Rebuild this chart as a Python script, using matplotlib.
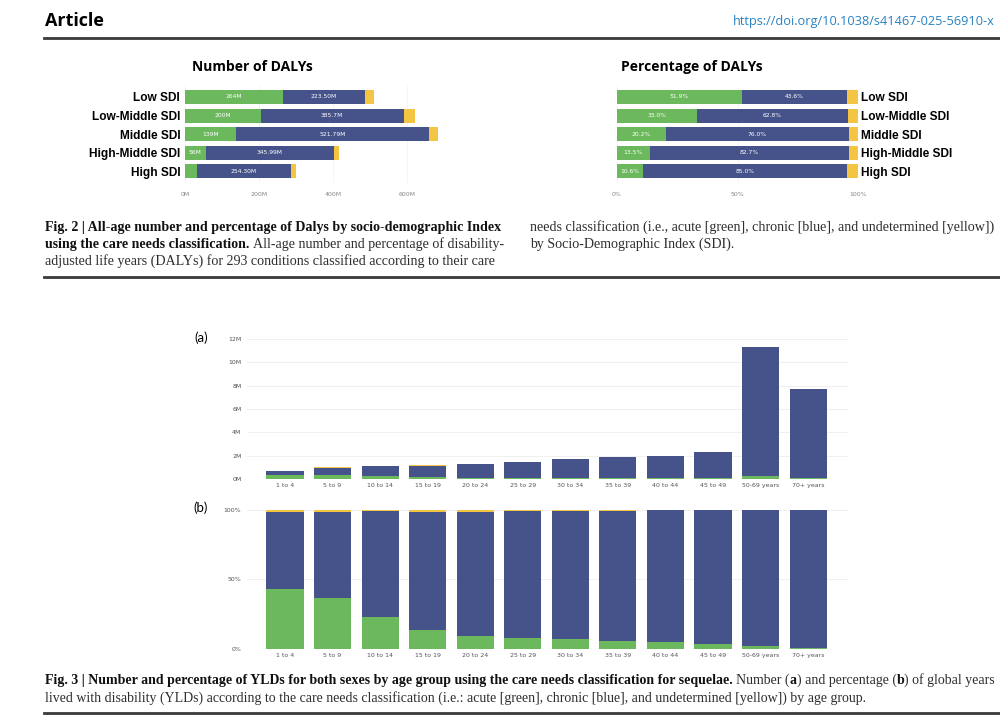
import matplotlib
matplotlib.use("Agg")
import matplotlib.pyplot as plt
from matplotlib.lines import Line2D
import numpy as np

W, H = 1000, 715
GREEN = "#6cb85c"
BLUE = "#45538a"
YELLOW = "#f4c542"

# ---------------- Fig. 2 data ----------------
sdi_levels = ["Low SDI", "Low-Middle SDI", "Middle SDI", "High-Middle SDI", "High SDI"]
daly_acute = [264, 205, 139, 56, 32]
daly_chronic = [223.5, 385.7, 521.79, 345.99, 254.3]
daly_undet = [24, 30, 24, 14, 14]
daly_acute_labels = ["264M", "200M", "139M", "56M", ""]
daly_chronic_labels = ["223.50M", "385.7M", "521.79M", "345.99M", "254.30M"]
daly_ticks = [0, 200, 400, 600]
daly_tick_labels = ["0M", "200M", "400M", "600M"]

pct_acute = [51.9, 33.0, 20.2, 13.5, 10.6]
pct_chronic = [43.6, 62.8, 76.0, 82.7, 85.0]
pct_undet = [4.5, 4.2, 3.8, 3.8, 4.4]
pct_acute_labels = ["51.9%", "33.0%", "20.2%", "13.5%", "10.6%"]
pct_chronic_labels = ["43.6%", "62.8%", "76.0%", "82.7%", "85.0%"]
pct_ticks = [0, 50, 100]
pct_tick_labels = ["0%", "50%", "100%"]

# ---------------- Fig. 3 data ----------------
age_groups = ["1 to 4", "5 to 9", "10 to 14", "15 to 19", "20 to 24", "25 to 29",
              "30 to 34", "35 to 39", "40 to 44", "45 to 49", "50-69 years", "70+ years"]
yld_acute = [0.30, 0.37, 0.26, 0.16, 0.12, 0.12, 0.12, 0.11, 0.10, 0.09, 0.27, 0.07]
yld_chronic = [0.40, 0.615, 0.87, 0.99, 1.15, 1.355, 1.575, 1.745, 1.86, 2.19, 11.0, 7.66]
yld_undet = [0.01, 0.015, 0.01, 0.02, 0.02, 0.015, 0.015, 0.015, 0.01, 0.01, 0.02, 0.01]
yld_ticks = [0, 2, 4, 6, 8, 10, 12]
yld_tick_labels = ["0M", "2M", "4M", "6M", "8M", "10M", "12M"]

yldp_acute = [42.9, 36.8, 23.0, 13.4, 9.6, 8.1, 6.9, 5.9, 5.0, 3.8, 2.4, 0.9]
yldp_chronic = [55.6, 61.7, 76.0, 84.6, 88.9, 90.9, 92.1, 93.3, 94.5, 95.9, 97.4, 99.0]
yldp_undet = [1.5, 1.5, 1.0, 2.0, 1.5, 1.0, 1.0, 0.8, 0.5, 0.3, 0.2, 0.1]

fig = plt.figure(figsize=(10, 7.15), dpi=100)
renderer = fig.canvas.get_renderer()


def fx(x):
    return x / W


def fy(y):
    return 1 - y / H


def px_axes(l, t, r, b):
    ax = fig.add_axes([l / W, 1 - b / H, (r - l) / W, (b - t) / H])
    for s in ax.spines.values():
        s.set_visible(False)
    return ax


def hline(x0, x1, y, lw=1.8, color="#3a3a3a"):
    fig.add_artist(Line2D([fx(x0), fx(x1)], [fy(y), fy(y)], lw=lw, color=color,
                          transform=fig.transFigure))


# ---------------- Header ----------------
fig.text(fx(45), fy(21), "Article", fontsize=13, fontweight="bold", family="Open Sans",
         ha="left", va="center")
fig.text(fx(995), fy(21), "https://doi.org/10.1038/s41467-025-56910-x", fontsize=9.2,
         color="#2a82c2", family="Open Sans", ha="right", va="center")
hline(44, 1000, 37.5, lw=2.0)

# ---------------- Fig. 2 left: Number of DALYs ----------------
rows = np.arange(len(sdi_levels))
ax1 = px_axes(185, 85.8, 444, 182.6)
acute = np.array(daly_acute)
chronic = np.array(daly_chronic)
ax1.barh(rows, acute, height=0.75, color=GREEN, zorder=2)
ax1.barh(rows, chronic, left=acute, height=0.75, color=BLUE, zorder=2)
ax1.barh(rows, daly_undet, left=acute + chronic, height=0.75, color=YELLOW, zorder=2)
for i in rows:
    if daly_acute_labels[i]:
        ax1.text(acute[i] / 2, i, daly_acute_labels[i], color="white", fontsize=4.3,
                 ha="center", va="center", zorder=3)
    ax1.text(acute[i] + chronic[i] / 2, i, daly_chronic_labels[i], color="white",
             fontsize=4.3, ha="center", va="center", zorder=3)
ax1.set_xlim(0, 700)
ax1.set_ylim(4.6, -0.6)
ax1.set_xticks(daly_ticks)
ax1.set_xticklabels(daly_tick_labels)
ax1.set_yticks(rows)
ax1.set_yticklabels(sdi_levels, fontweight="bold", fontsize=8.6, family="Liberation Sans")
ax1.tick_params(axis="x", length=0, labelsize=4.5, labelcolor="#888888", pad=7)
ax1.tick_params(axis="y", length=0, pad=3.5)
ax1.grid(axis="x", color="#f3f3f3", lw=0.6, zorder=0)
ax1.set_axisbelow(True)
fig.text(fx(252), fy(67), "Number of DALYs", ha="center", va="center", fontsize=10,
         fontweight="bold", family="Open Sans")

# ---------------- Fig. 2 right: Percentage of DALYs ----------------
ax2 = px_axes(617, 85.8, 858, 182.6)
pa = np.array(pct_acute)
pc = np.array(pct_chronic)
ax2.barh(rows, pa, height=0.75, color=GREEN, zorder=2)
ax2.barh(rows, pc, left=pa, height=0.75, color=BLUE, zorder=2)
ax2.barh(rows, pct_undet, left=pa + pc, height=0.75, color=YELLOW, zorder=2)
for i in rows:
    ax2.text(pa[i] / 2, i, pct_acute_labels[i], color="white", fontsize=4.3,
             ha="center", va="center", zorder=3)
    ax2.text(pa[i] + pc[i] / 2, i, pct_chronic_labels[i], color="white", fontsize=4.3,
             ha="center", va="center", zorder=3)
ax2.set_xlim(0, 100)
ax2.set_ylim(4.6, -0.6)
ax2.set_xticks(pct_ticks)
ax2.set_xticklabels(pct_tick_labels)
ax2.yaxis.tick_right()
ax2.set_yticks(rows)
ax2.set_yticklabels(sdi_levels, fontweight="bold", fontsize=8.6, family="Liberation Sans")
ax2.tick_params(axis="x", length=0, labelsize=4.5, labelcolor="#888888", pad=7)
ax2.tick_params(axis="y", length=0, pad=2)
ax2.grid(axis="x", color="#f3f3f3", lw=0.6, zorder=0)
ax2.set_axisbelow(True)
fig.text(fx(692), fy(67), "Percentage of DALYs", ha="center", va="center", fontsize=10,
         fontweight="bold", family="Open Sans")

# ---------------- caption helpers ----------------
CAP_FAMILY = "Liberation Serif"


def text_w(txt, size, wt):
    t = fig.text(0, 0, txt, fontsize=size, fontweight=wt, family=CAP_FAMILY)
    w = t.get_window_extent(renderer).width
    t.remove()
    return w


def space_w(size, wt):
    return text_w("n n", size, wt) - text_w("nn", size, wt)


def line_w(segs, size):
    total = 0
    for txt, wt, sp in segs:
        if sp:
            total += space_w(size, wt)
        total += text_w(txt, size, wt)
    return total


def draw_line(segs, x, y, size):
    for txt, wt, sp in segs:
        if sp:
            x += space_w(size, wt)
        fig.text(fx(x), fy(y), txt, fontsize=size, fontweight=wt, family=CAP_FAMILY,
                 ha="left", va="baseline",
                 color="#111111" if wt == "bold" else "#2e2e2e")
        x += text_w(txt, size, wt)


fig2_l1 = [("Fig. 2 | All-age number and percentage of Dalys by socio-demographic Index", "bold", False)]
fig2_l2 = [("using the care needs classification.", "bold", False),
           ("All-age number and percentage of disability-", "normal", True)]
fig2_l3 = [("adjusted life years (DALYs) for 293 conditions classified according to their care", "normal", False)]
fig2_r1 = [("needs classification (i.e., acute [green], chronic [blue], and undetermined [yellow])", "normal", False)]
fig2_r2 = [("by Socio-Demographic Index (SDI).", "normal", False)]

base = 10.0
size2 = base * 460 / line_w(fig2_l1, base)
size2r = base * 465 / line_w(fig2_r1, base)
sz = min(size2, size2r)
draw_line(fig2_l1, 45, 231, sz)
draw_line(fig2_l2, 45, 248, sz)
draw_line(fig2_l3, 45, 265, sz)
draw_line(fig2_r1, 530, 231, sz)
draw_line(fig2_r2, 530, 248, sz)
hline(44, 1000, 277, lw=2.0)

# ---------------- Fig. 3 (a) ----------------
xa = np.arange(len(age_groups))
axA = px_axes(247, 334.3, 848, 479)
ya = np.array(yld_acute)
yc = np.array(yld_chronic)
axA.bar(xa, ya, width=0.78, color=GREEN, zorder=2)
axA.bar(xa, yc, bottom=ya, width=0.78, color=BLUE, zorder=2)
axA.bar(xa, yld_undet, bottom=ya + yc, width=0.78, color=YELLOW, zorder=2)
axA.set_xlim(-0.8, 11.84)
axA.set_ylim(0, 12.4)
axA.set_yticks(yld_ticks)
axA.set_yticklabels(yld_tick_labels)
axA.set_xticks(xa)
axA.set_xticklabels(age_groups)
axA.tick_params(axis="both", length=0, labelsize=4.5, labelcolor="#555555")
axA.tick_params(axis="x", pad=3)
axA.tick_params(axis="y", pad=4)
axA.grid(axis="y", color="#eeeeee", lw=0.6, zorder=0)
axA.set_axisbelow(True)
fig.text(fx(201), fy(338), "(a)", fontsize=9.5, family="Lato", ha="center", va="center")

# ---------------- Fig. 3 (b) ----------------
axB = px_axes(247, 509.7, 848, 649)
pa3 = np.array(yldp_acute)
pc3 = np.array(yldp_chronic)
axB.bar(xa, pa3, width=0.78, color=GREEN, zorder=2)
axB.bar(xa, pc3, bottom=pa3, width=0.78, color=BLUE, zorder=2)
axB.bar(xa, yldp_undet, bottom=pa3 + pc3, width=0.78, color=YELLOW, zorder=2, clip_on=False)
axB.set_xlim(-0.8, 11.84)
axB.set_ylim(0, 100)
axB.set_yticks(pct_ticks)
axB.set_yticklabels(pct_tick_labels)
axB.set_xticks(xa)
axB.set_xticklabels(age_groups)
axB.tick_params(axis="both", length=0, labelsize=4.5, labelcolor="#555555")
axB.tick_params(axis="x", pad=3)
axB.tick_params(axis="y", pad=4)
axB.grid(axis="y", color="#eeeeee", lw=0.6, zorder=0)
axB.set_axisbelow(True)
fig.text(fx(201), fy(508), "(b)", fontsize=9.5, family="Lato", ha="center", va="center")

# ---------------- Fig. 3 caption ----------------
fig3_l1 = [("Fig. 3 | Number and percentage of YLDs for both sexes by age group using the care needs classification for sequelae.", "bold", False),
           ("Number (", "normal", True), ("a", "bold", False), (") and percentage (", "normal", False),
           ("b", "bold", False), (") of global years", "normal", False)]
fig3_l2 = [("lived with disability (YLDs) according to the care needs classification (i.e.: acute [green], chronic [blue], and undetermined [yellow]) by age group.", "normal", False)]
size3 = base * 950 / line_w(fig3_l1, base)
draw_line(fig3_l1, 45, 684, size3)
draw_line(fig3_l2, 45, 702, size3)
hline(44, 1000, 713, lw=2.0)

fig.savefig("out.png", dpi=100, facecolor="white")
